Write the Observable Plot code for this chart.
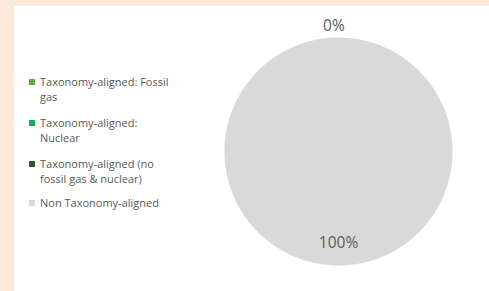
<!DOCTYPE html>
<html>
<head>
<meta charset="utf-8">
<script src="https://cdn.jsdelivr.net/npm/d3@7"></script>
<script src="https://cdn.jsdelivr.net/npm/@observablehq/plot@0.6"></script>
<style>
  html, body { margin: 0; padding: 0; }
  body { width: 489px; height: 291px; background: #fde9d9; position: relative; overflow: hidden; font-family: "Open Sans", Lato, sans-serif; }
  #panel { position: absolute; left: 14px; top: 6px; width: 475px; height: 285px; background: #ffffff; }
  #chart { position: absolute; left: 0; top: 0; }
  .lg { position: absolute; left: 15px; display: flex; align-items: flex-start; font-size: 11px; line-height: 14.5px; color: #595959; }
  .sw { width: 6px; height: 6px; margin-top: 4px; margin-right: 5px; flex: none; }
  .lt { white-space: nowrap; }
</style>
</head>
<body>
<div id="panel">
  <div id="chart"></div>
  <div id="legend"></div>
</div>
<script>
// Data
const legendLines = [
  ["Taxonomy-aligned: Fossil", "gas"],
  ["Taxonomy-aligned:", "Nuclear"],
  ["Taxonomy-aligned (no", "fossil gas & nuclear)"],
  ["Non Taxonomy-aligned"]
];
const categories = legendLines.map(l => l.join(" "));
const values = [0, 0, 0, 100];
const colors = ["#62a94a", "#12b159", "#2e5a27", "#d9d9d9"];
const valueLabels = ["0%", "0%", "0%", "100%"];

// Pie geometry from data via d3.pie (clockwise from 12 o'clock)
const arcs = d3.pie().sort(null).value(d => d)(values);
const polyPoints = [];
arcs.forEach((a, i) => {
  if (a.endAngle - a.startAngle <= 0) return;
  const n = Math.max(2, Math.ceil((a.endAngle - a.startAngle) / 0.01));
  const full = (a.endAngle - a.startAngle) >= 2 * Math.PI - 1e-9;
  if (!full) polyPoints.push({cat: categories[i], x: 0, y: 0});
  for (let k = 0; k <= n; k++) {
    const t = a.startAngle + (a.endAngle - a.startAngle) * k / n;
    polyPoints.push({cat: categories[i], x: Math.sin(t), y: Math.cos(t)});
  }
});

// Labels: zero slices outside at the top, others inside
const seen = new Set();
const labels = [];
arcs.forEach((a, i) => {
  const mid = (a.startAngle + a.endAngle) / 2;
  const r = values[i] === 0 ? 1.1 : 0.8;
  const key = valueLabels[i] + "@" + mid.toFixed(3);
  if (seen.has(key)) return;
  seen.add(key);
  labels.push({text: valueLabels[i], x: Math.sin(mid) * r - (values[i] === 0 ? 0.04 : 0), y: Math.cos(mid) * r});
});

const plot = Plot.plot({
  width: 475,
  height: 285,
  marginLeft: 210,
  marginRight: 37,
  marginTop: 31,
  marginBottom: 26,
  x: {domain: [-1, 1], axis: null},
  y: {domain: [-1, 1], axis: null},
  color: {domain: categories, range: colors},
  style: {background: "transparent", fontFamily: "'Open Sans', Lato, sans-serif"},
  marks: [
    Plot.line(polyPoints, {x: "x", y: "y", z: "cat", fill: "cat", stroke: "none", curve: "linear-closed"}),
    Plot.text(labels, {x: "x", y: "y", text: "text", fontSize: 15.5, fill: "#595959"})
  ]
});
document.getElementById("chart").appendChild(plot);

// Legend (HTML)
const legendTops = [69, 110, 151, 190];
const legendEl = document.getElementById("legend");
legendLines.forEach((lines, i) => {
  const div = document.createElement("div");
  div.className = "lg";
  div.style.top = legendTops[i] + "px";
  const sw = document.createElement("div");
  sw.className = "sw";
  sw.style.background = colors[i];
  const t = document.createElement("div");
  t.className = "lt";
  lines.forEach((ln, k) => {
    if (k > 0) t.appendChild(document.createElement("br"));
    t.appendChild(document.createTextNode(ln));
  });
  div.appendChild(sw);
  div.appendChild(t);
  legendEl.appendChild(div);
});
</script>
</body>
</html>
